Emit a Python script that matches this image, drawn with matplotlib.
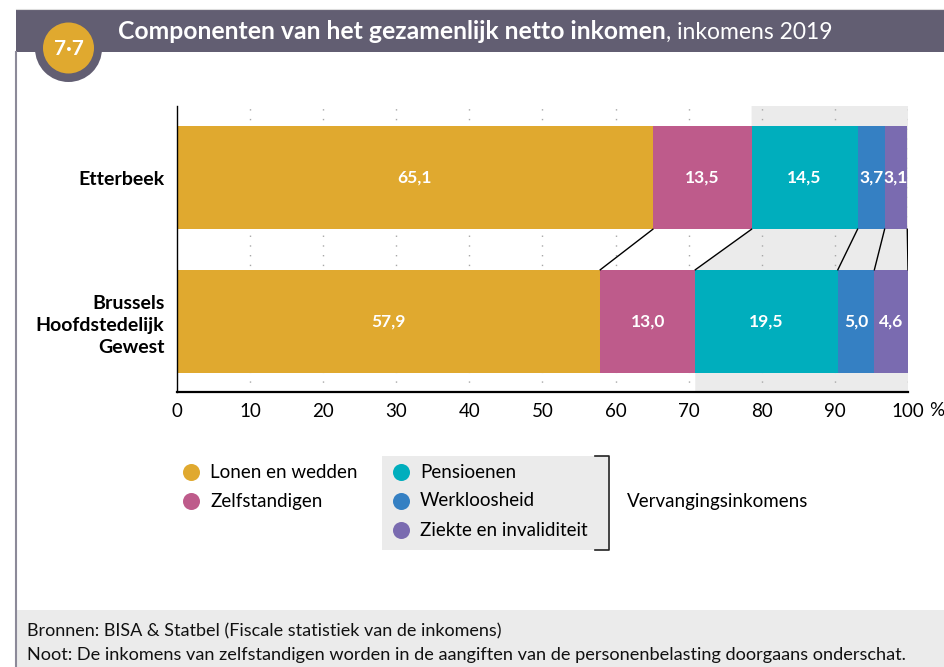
import numpy as np
import matplotlib
matplotlib.use("Agg")
import matplotlib.pyplot as plt
from matplotlib.patches import Circle, Polygon, Rectangle

plt.rcParams['font.family'] = ['Lato', 'DejaVu Sans']

# inkomenscomponenten (%), inkomens 2019
components = ["Lonen en wedden", "Zelfstandigen", "Pensioenen",
              "Werkloosheid", "Ziekte en invaliditeit"]
colors = ["#E0A92F", "#BE5B8B", "#00AEBD", "#3580C3", "#7A6BB0"]
etterbeek = [65.1, 13.5, 14.5, 3.7, 3.1]
gewest = [57.9, 13.0, 19.5, 5.0, 4.6]
regions = ["Etterbeek", "Brussels\nHoofdstedelijk\nGewest"]
xticks = [0, 10, 20, 30, 40, 50, 60, 70, 80, 90, 100]

title_bold = "Componenten van het gezamenlijk netto inkomen"
title_rest = ", inkomens 2019"
badge = "7·7"
source = "Bronnen: BISA & Statbel (Fiscale statistiek van de inkomens)"
note = "Noot: De inkomens van zelfstandigen worden in de aangiften van de personenbelasting doorgaans onderschat."

W, H = 945, 667
fig = plt.figure(figsize=(W / 100, H / 100), dpi=100)

# achtergrondlaag in pixelcoordinaten
bg = fig.add_axes([0, 0, 1, 1], zorder=0)
bg.set_xlim(0, W)
bg.set_ylim(H, 0)
bg.axis("off")

bar_col = "#625E72"
bg.add_patch(Rectangle((16, 10), W - 16, 42, color=bar_col, lw=0))
bg.plot([16, W], [9, 9], color="#DDDDDD", lw=0.8)
bg.plot([16, 16], [52, H], color="#8C8A99", lw=1.5)
bg.add_patch(Circle((68.5, 48.5), 33.5, color=bar_col, lw=0))
bg.add_patch(Circle((68.5, 48), 25.5, color="#E0A92F", lw=0))
bg.text(68.5, 49, badge, color="white", fontsize=15, fontweight="bold",
        ha="center", va="center")
t1 = bg.text(118, 43, title_bold, color="white", fontsize=17.8,
             fontweight="bold", ha="left", va="bottom")
bg.annotate(title_rest, xy=(1, 0), xycoords=t1, color="white",
            fontsize=16.5, ha="left", va="bottom")

# voetnoot
bg.add_patch(Rectangle((17, 610), W - 17, H - 610, color="#EBEBEB", lw=0))
bg.text(27, 631, source, fontsize=13, va="center", color="#111111")
bg.text(27, 655, note, fontsize=13.1, va="center", color="#111111")

# grafiek
ax = fig.add_axes([177 / W, 1 - 392 / H, (908 - 177) / W, (392 - 106) / H],
                  zorder=1)
ax.set_facecolor("none")
h = 0.718
ypos = [1, 0]
ax.set_xlim(0, 100)
ax.set_ylim(-0.491, 1.498)

cum_e = np.concatenate([[0], np.cumsum(etterbeek)])
cum_g = np.concatenate([[0], np.cumsum(gewest)])
y0, y1 = ax.get_ylim()

# grijze zone van de vervangingsinkomens
zone = Polygon([(cum_e[2], y1), (100, y1), (100, y0), (cum_g[2], y0),
                (cum_g[2], h / 2), (cum_e[2], 1 - h / 2)],
               closed=True, color="#EBEBEB", lw=0, zorder=0)
ax.add_patch(zone)

ax.vlines(xticks[1:], y0, y1, colors="#A8A8A8", linestyles=(0, (1, 6)),
          lw=1, zorder=1)

for vals, cum, y in [(etterbeek, cum_e, ypos[0]), (gewest, cum_g, ypos[1])]:
    for i, v in enumerate(vals):
        ax.barh(y, v, left=cum[i], height=h, color=colors[i], lw=0, zorder=2)
        ax.text(cum[i] + v / 2, y, f"{v:.1f}".replace(".", ","),
                color="white", fontsize=12.5, fontweight="bold",
                ha="center", va="center", zorder=3)

# verbindingslijnen tussen de twee balken
for a, b in zip(cum_e[1:], cum_g[1:]):
    ax.plot([a, b], [1 - h / 2, h / 2], color="black", lw=1, zorder=3)

for s in ["top", "right"]:
    ax.spines[s].set_visible(False)
ax.spines["left"].set_linewidth(1)
ax.spines["bottom"].set_linewidth(1.6)
ax.set_xticks(xticks)
ax.set_xticklabels([str(t) for t in xticks], fontsize=13.5)
ax.set_yticks(ypos)
ax.set_yticklabels(regions, fontsize=14, fontweight="bold",
                   linespacing=1.35)
ax.tick_params(axis="both", length=0)
ax.tick_params(axis="x", pad=8)
ax.tick_params(axis="y", pad=9)
bg.text(937, 410, "%", fontsize=13.5, ha="center", va="center")

# legenda
bg.add_patch(Rectangle((382, 456), 226, 94, color="#EBEBEB", lw=0))
bg.plot([595, 609, 609, 595], [456, 456, 550, 550], color="#222222", lw=1.2)
spots = [(191, 472), (191, 501), (401, 472), (401, 501), (401, 530)]
for (x, y), name, c in zip(spots, components, colors):
    bg.scatter([x], [y], s=150, color=c, lw=0)
    bg.text(x + 19, y, name, fontsize=13.5, va="center", ha="left")
bg.text(627, 502, "Vervangingsinkomens", fontsize=13.5, va="center", ha="left")

fig.savefig("out.png", dpi=100)
